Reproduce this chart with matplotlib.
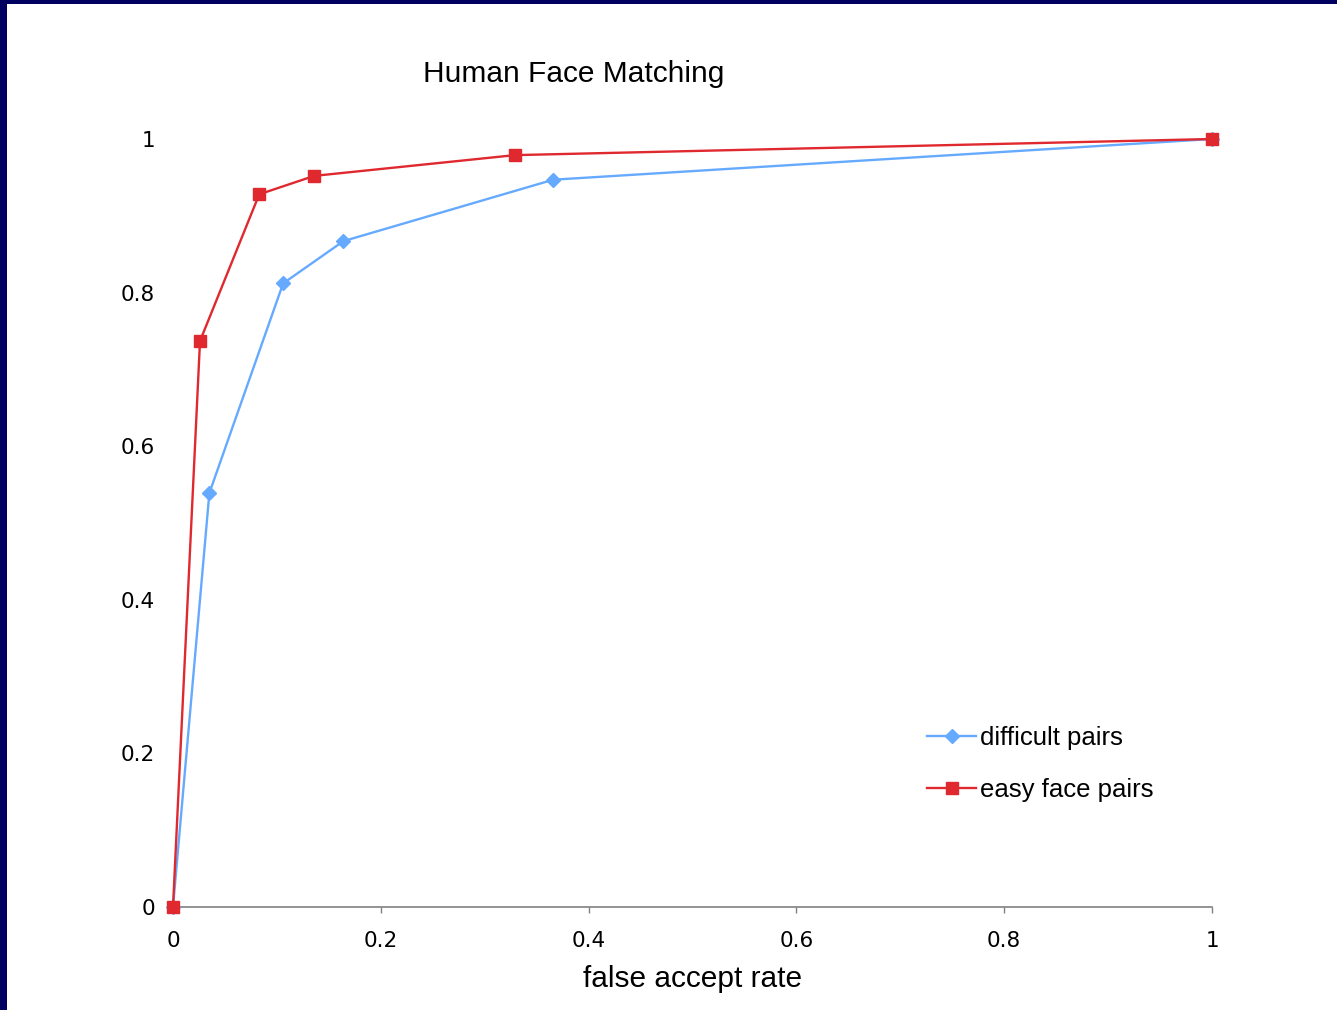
import matplotlib
matplotlib.use('Agg')
import matplotlib.pyplot as plt
from matplotlib.patches import Rectangle

# values
difficult_x = [0.0, 0.035, 0.106, 0.164, 0.366, 1.0]
difficult_y = [0.0, 0.539, 0.812, 0.867, 0.947, 1.0]
easy_x = [0.0, 0.026, 0.083, 0.136, 0.329, 1.0]
easy_y = [0.0, 0.737, 0.928, 0.952, 0.979, 1.0]
ticks = [0, 0.2, 0.4, 0.6, 0.8, 1]
tick_labels = ['0', '0.2', '0.4', '0.6', '0.8', '1']

fig = plt.figure(figsize=(13.37, 10.10), dpi=100)
fig.patch.set_facecolor('white')

# navy frame strips on left and top
fig.patches.append(Rectangle((0, 0), 7 / 1337, 1, transform=fig.transFigure,
                             facecolor='#000060', edgecolor='none', zorder=0))
fig.patches.append(Rectangle((0, 1 - 4 / 1010), 1, 4 / 1010, transform=fig.transFigure,
                             facecolor='#000060', edgecolor='none', zorder=0))

ax = fig.add_axes([173 / 1337, 1 - 907 / 1010, 1039 / 1337, 768 / 1010])

ax.plot(difficult_x, difficult_y, color='#66aaff', lw=1.7, marker='D', ms=7,
        label='difficult pairs', clip_on=False, zorder=3)
ax.plot(easy_x, easy_y, color='#e0282f', lw=1.7, marker='s', ms=8.5,
        label='easy face pairs', clip_on=False, zorder=4)

ax.set_xlim(0, 1)
ax.set_ylim(0, 1)
ax.set_xticks(ticks)
ax.set_xticklabels(tick_labels, family='DejaVu Sans')
ax.set_yticks(ticks)
ax.set_yticklabels(tick_labels, family='DejaVu Sans')

for s in ['top', 'right', 'left']:
    ax.spines[s].set_visible(False)
ax.spines['bottom'].set_color('#808080')
ax.spines['bottom'].set_linewidth(1.2)
ax.tick_params(axis='x', direction='out', length=4, width=1, color='#808080',
               pad=13, labelsize=15.5)
ax.tick_params(axis='y', length=0, pad=13, labelsize=15.5)

ax.text(0.386, 1.0846, 'Human Face Matching', transform=ax.transAxes,
        ha='center', va='center', fontsize=21.5, family='Liberation Sans')
ax.set_xlabel('false accept rate', fontsize=21.5, family='Liberation Sans')
ax.xaxis.set_label_coords(0.5, -0.0937)
ax.xaxis.label.set_va('center')

ax.legend(loc='center left', bbox_to_anchor=(0.726, 0.186), frameon=False,
          prop={'family': 'Liberation Sans', 'size': 18.5}, borderpad=0,
          borderaxespad=0, handlelength=1.9, handletextpad=0.15,
          labelspacing=1.1)

fig.savefig('out.png', dpi=100)
